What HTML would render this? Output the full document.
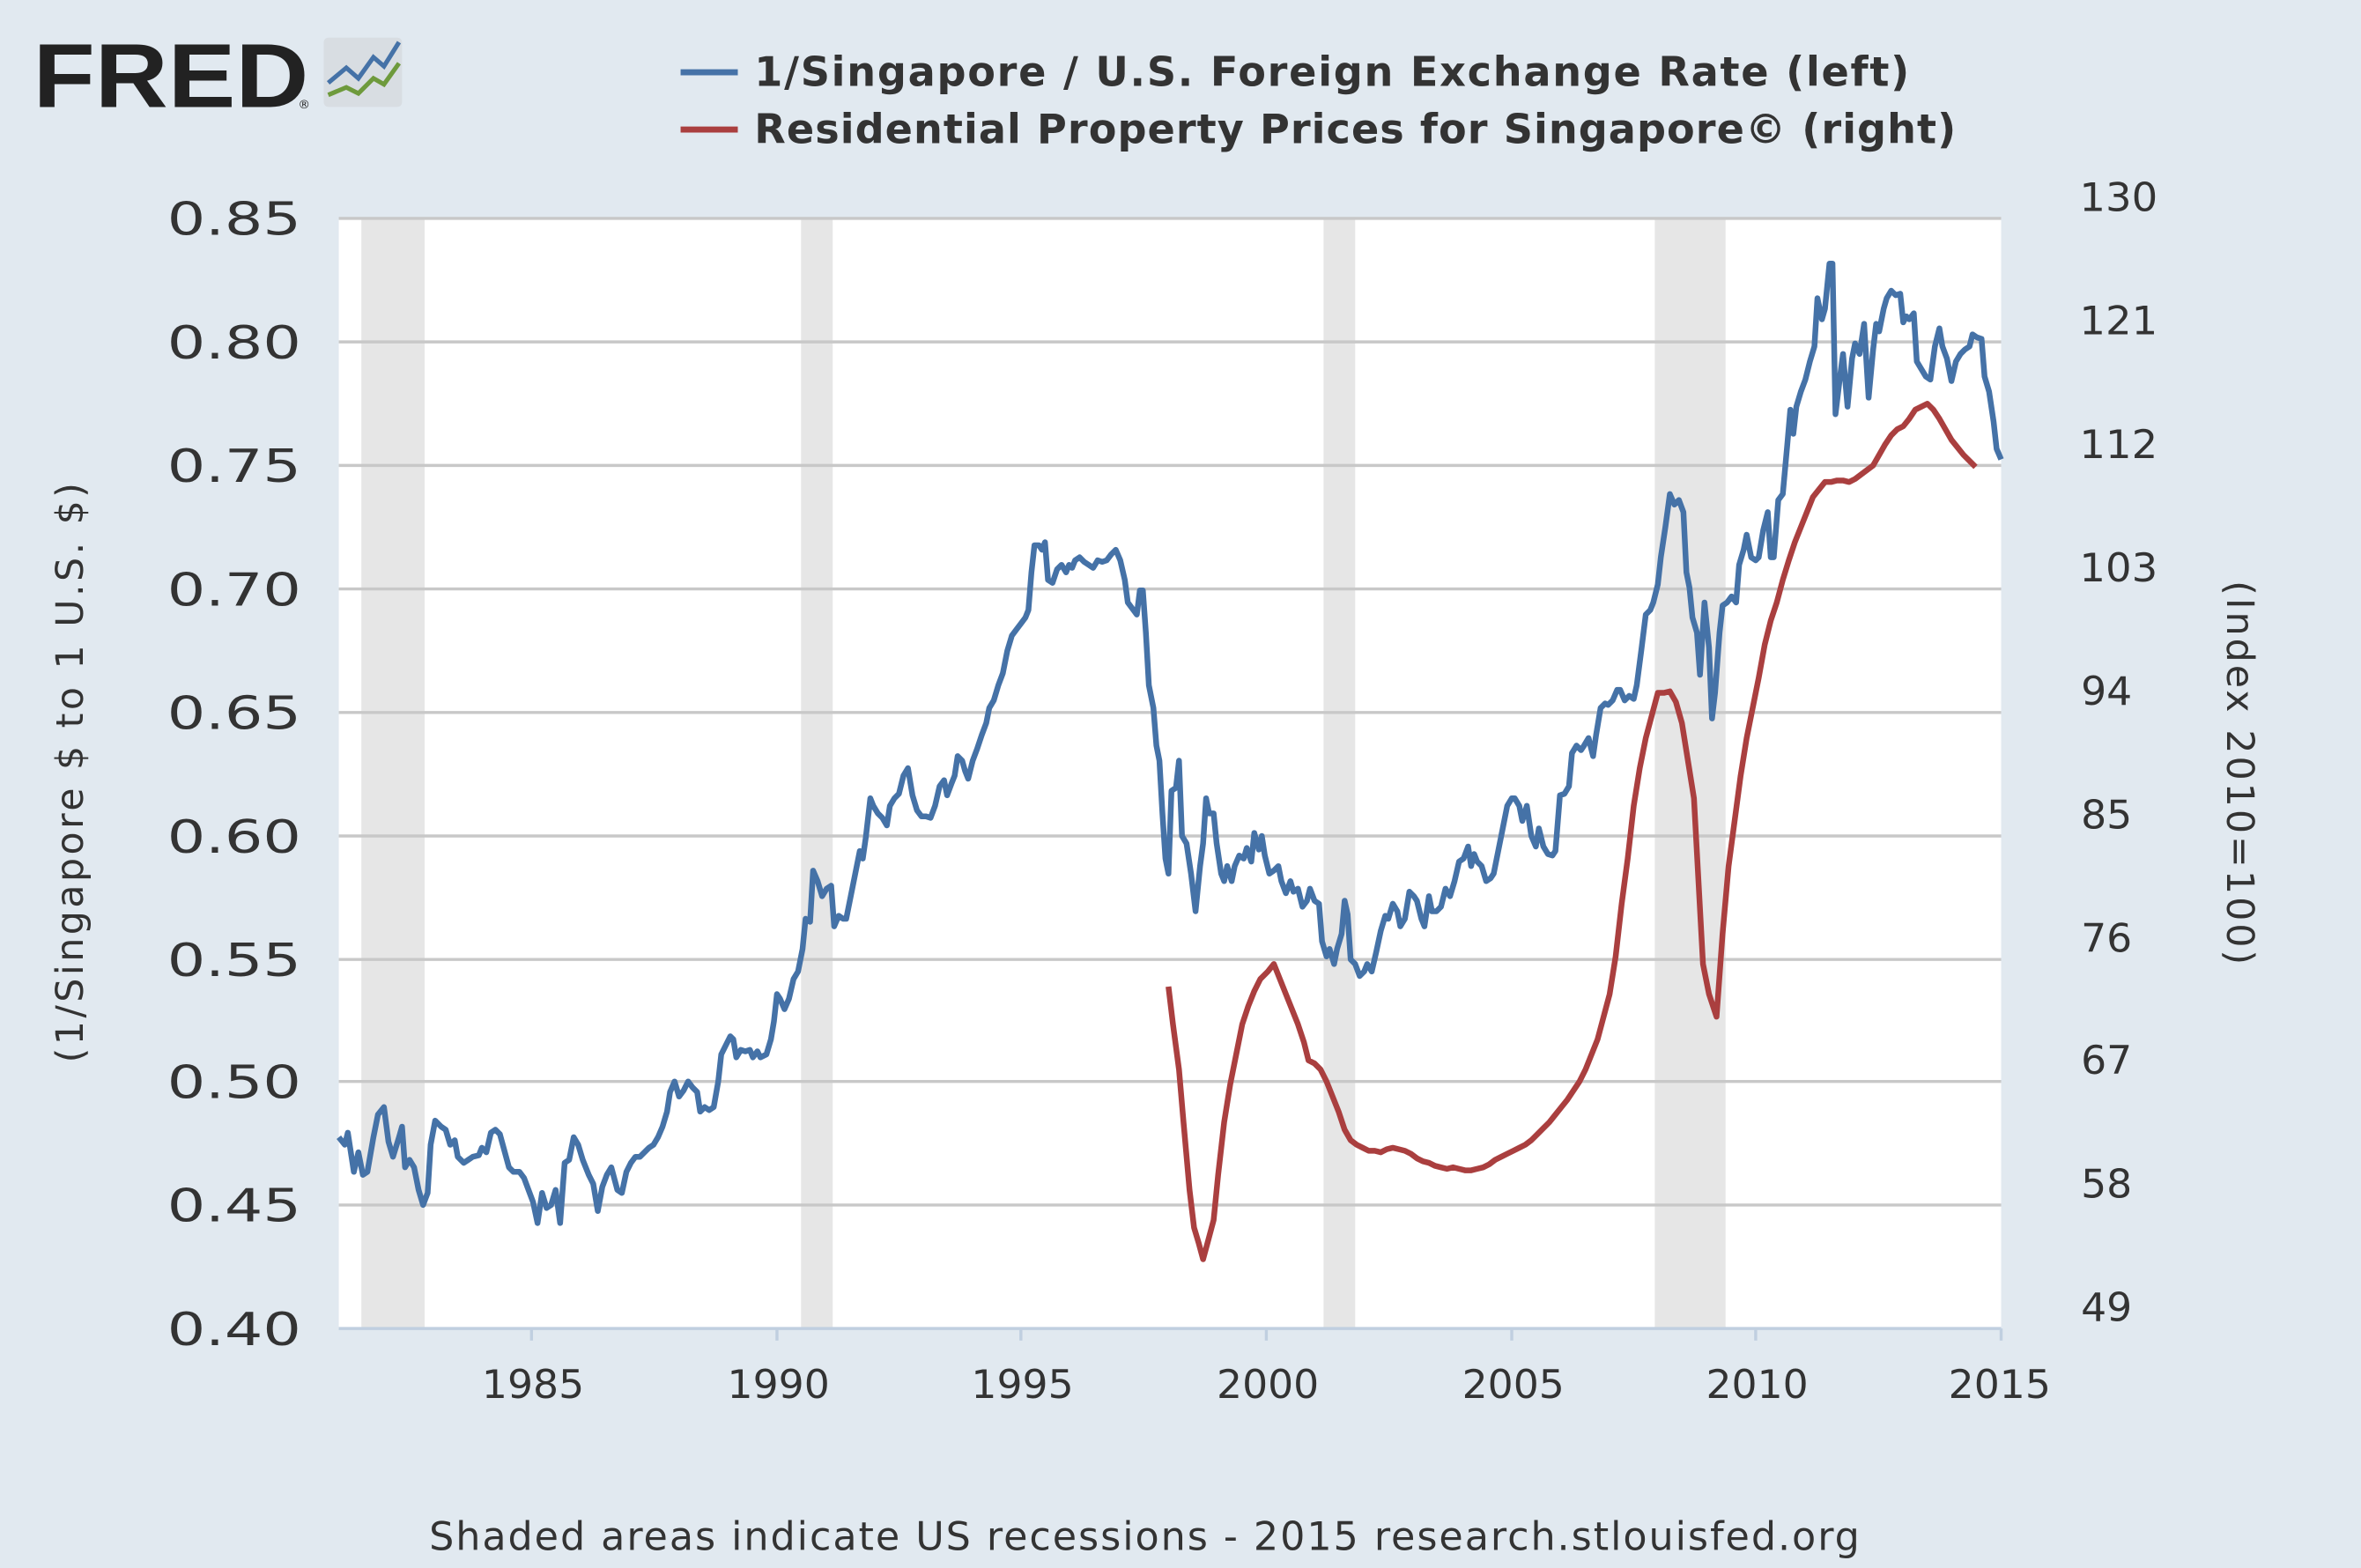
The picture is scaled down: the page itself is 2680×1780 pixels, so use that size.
<!DOCTYPE html>
<html><head><meta charset="utf-8"><style>html,body{margin:0;padding:0;background:#e1e9f0;}svg{display:block}</style></head>
<body>
<svg width="2680" height="1780" viewBox="0 0 1568 1041" preserveAspectRatio="none" xmlns="http://www.w3.org/2000/svg" font-family="'DejaVu Sans','Liberation Sans',sans-serif">
<rect width="1568" height="1041" fill="#e1e9f0"/>
<rect x="225" y="145" width="1104" height="737" fill="#fff"/>
<g fill="#e6e6e6">
<rect x="240" y="145" width="42" height="737"/><rect x="532" y="145" width="21" height="737"/>
<rect x="879" y="145" width="21" height="737"/><rect x="1099" y="145" width="47" height="737"/>
</g>
<g stroke="#c8c8c8" stroke-width="2">
<line x1="225" x2="1329" y1="145" y2="145"/><line x1="225" x2="1329" y1="227" y2="227"/><line x1="225" x2="1329" y1="309" y2="309"/><line x1="225" x2="1329" y1="391" y2="391"/><line x1="225" x2="1329" y1="473" y2="473"/><line x1="225" x2="1329" y1="555" y2="555"/><line x1="225" x2="1329" y1="637" y2="637"/><line x1="225" x2="1329" y1="718" y2="718"/><line x1="225" x2="1329" y1="800" y2="800"/>
</g>
<line x1="225" x2="1329" y1="882" y2="882" stroke="#c0cfe0" stroke-width="2"/>
<g stroke="#c0cfe0" stroke-width="2"><line x1="353" x2="353" y1="882" y2="890"/><line x1="516" x2="516" y1="882" y2="890"/><line x1="678" x2="678" y1="882" y2="890"/><line x1="841" x2="841" y1="882" y2="890"/><line x1="1004" x2="1004" y1="882" y2="890"/><line x1="1166" x2="1166" y1="882" y2="890"/><line x1="1329" x2="1329" y1="882" y2="890"/></g>
<g font-size="30" fill="#333" text-anchor="end">
<text x="200" y="156" textLength="89" lengthAdjust="spacingAndGlyphs">0.85</text><text x="200" y="238" textLength="89" lengthAdjust="spacingAndGlyphs">0.80</text><text x="200" y="320" textLength="89" lengthAdjust="spacingAndGlyphs">0.75</text><text x="200" y="402" textLength="89" lengthAdjust="spacingAndGlyphs">0.70</text><text x="200" y="484" textLength="89" lengthAdjust="spacingAndGlyphs">0.65</text><text x="200" y="566" textLength="89" lengthAdjust="spacingAndGlyphs">0.60</text><text x="200" y="648" textLength="89" lengthAdjust="spacingAndGlyphs">0.55</text><text x="200" y="729" textLength="89" lengthAdjust="spacingAndGlyphs">0.50</text><text x="200" y="811" textLength="89" lengthAdjust="spacingAndGlyphs">0.45</text><text x="200" y="893" textLength="89" lengthAdjust="spacingAndGlyphs">0.40</text>
</g>
<g font-size="26" fill="#333" text-anchor="middle">
<text x="1407" y="140" textLength="52" lengthAdjust="spacingAndGlyphs">130</text><text x="1407" y="222" textLength="52" lengthAdjust="spacingAndGlyphs">121</text><text x="1407" y="304" textLength="52" lengthAdjust="spacingAndGlyphs">112</text><text x="1407" y="386" textLength="52" lengthAdjust="spacingAndGlyphs">103</text><text x="1399" y="468" textLength="34" lengthAdjust="spacingAndGlyphs">94</text><text x="1399" y="550" textLength="34" lengthAdjust="spacingAndGlyphs">85</text><text x="1399" y="632" textLength="34" lengthAdjust="spacingAndGlyphs">76</text><text x="1399" y="713" textLength="34" lengthAdjust="spacingAndGlyphs">67</text><text x="1399" y="795" textLength="34" lengthAdjust="spacingAndGlyphs">58</text><text x="1399" y="877" textLength="34" lengthAdjust="spacingAndGlyphs">49</text>
<text x="354" y="928" textLength="68" lengthAdjust="spacingAndGlyphs">1985</text><text x="517" y="928" textLength="68" lengthAdjust="spacingAndGlyphs">1990</text><text x="679" y="928" textLength="68" lengthAdjust="spacingAndGlyphs">1995</text><text x="842" y="928" textLength="68" lengthAdjust="spacingAndGlyphs">2000</text><text x="1005" y="928" textLength="68" lengthAdjust="spacingAndGlyphs">2005</text><text x="1167" y="928" textLength="68" lengthAdjust="spacingAndGlyphs">2010</text><text x="1328" y="928" textLength="68" lengthAdjust="spacingAndGlyphs">2015</text>
</g>
<text transform="translate(55,513) rotate(-90)" font-size="25" fill="#333" text-anchor="middle" textLength="385">(1/Singapore $ to 1 U.S. $)</text>
<text transform="translate(1479,513) rotate(90)" font-size="25" fill="#333" text-anchor="middle" textLength="255">(Index 2010=100)</text>
<text x="760" y="1029" font-size="26" fill="#333" text-anchor="middle" textLength="950">Shaded areas indicate US recessions - 2015 research.stlouisfed.org</text>
<text x="22" y="71" font-size="60" font-weight="bold" fill="#222" font-family="'Liberation Sans',sans-serif" textLength="183" lengthAdjust="spacingAndGlyphs">FRED</text>
<text x="198" y="72" font-size="8" fill="#222">®</text>
<rect x="215" y="25" width="52" height="46" fill="#d8dde2" rx="3"/>
<polyline points="218,55 230,45 238,52 248,38 255,44 265,28" fill="none" stroke="#4572a7" stroke-width="3"/>
<polyline points="218,63 230,58 238,62 248,52 255,56 265,42" fill="none" stroke="#6e9a3c" stroke-width="3"/>
<line x1="452" x2="490" y1="48" y2="48" stroke="#4572a7" stroke-width="4"/>
<line x1="452" x2="490" y1="86" y2="86" stroke="#aa3f3f" stroke-width="4"/>
<g font-size="27" font-weight="bold" fill="#333"><text x="501" y="57" textLength="767">1/Singapore / U.S. Foreign Exchange Rate (left)</text><text x="501" y="95" textLength="798">Residential Property Prices for Singapore© (right)</text></g>
<polyline fill="none" stroke="#4572a7" stroke-width="3.8" stroke-linejoin="round" points="225,755 229,760 231,752 235,778 238,765 241,780 244,778 248,755 251,740 255,735 258,758 261,768 265,755 267,748 269,775 272,770 275,775 278,790 281,800 284,792 286,760 289,744 293,748 296,750 299,760 302,757 304,768 308,772 311,770 314,768 318,767 320,762 323,765 326,752 329,750 332,753 335,764 338,775 341,778 345,778 348,782 351,790 354,798 357,812 360,792 363,802 366,800 369,790 372,812 375,772 378,770 381,755 384,760 387,770 391,780 394,786 397,804 400,788 403,780 406,775 410,790 413,792 416,778 419,772 422,768 425,768 428,765 431,762 434,760 437,755 440,748 443,738 445,725 448,718 451,728 454,724 457,718 460,722 463,725 465,738 468,735 471,737 474,735 477,718 479,700 482,694 485,688 487,690 489,702 492,697 495,698 498,697 500,702 503,698 505,702 509,700 512,690 514,678 516,660 518,663 521,670 524,663 527,650 530,645 533,630 535,610 538,612 540,578 543,585 546,595 549,590 552,588 554,615 557,608 560,610 562,610 565,595 568,580 571,565 573,570 575,556 578,530 580,535 583,540 586,543 589,548 591,535 594,530 597,527 600,515 603,510 606,528 609,538 612,542 615,542 618,543 621,535 624,522 627,518 629,528 632,520 634,515 636,502 639,505 641,512 643,517 646,505 649,497 652,488 655,480 657,470 660,465 663,455 666,447 669,432 672,422 675,418 678,414 681,410 683,405 685,380 687,362 690,362 692,365 694,360 696,385 699,387 702,378 705,375 708,380 710,375 712,377 714,372 717,370 720,373 723,375 726,377 729,372 732,373 735,372 738,368 741,365 744,372 747,385 749,400 752,404 755,408 757,392 759,392 761,420 763,455 766,470 768,495 770,505 772,540 774,570 776,580 778,525 781,523 783,505 785,555 788,560 791,580 794,605 797,575 799,560 801,530 803,540 806,540 808,560 811,580 813,585 815,575 818,585 820,575 823,568 826,570 828,563 831,572 833,553 836,564 838,555 840,568 843,580 846,578 849,575 851,585 854,593 857,585 859,592 862,590 865,602 868,598 870,590 873,598 876,600 878,625 881,635 883,630 886,640 888,630 891,620 893,598 895,607 897,637 900,640 903,648 906,645 908,640 911,645 914,632 917,618 920,608 922,610 925,600 928,605 930,615 933,610 936,592 939,595 941,598 944,610 946,615 949,595 951,605 954,605 957,602 960,590 963,595 966,585 969,572 972,570 975,562 977,575 979,567 981,572 984,575 987,585 990,583 992,580 995,565 998,550 1001,535 1004,530 1006,530 1009,535 1011,545 1014,535 1017,555 1020,562 1022,550 1025,562 1028,567 1031,568 1033,565 1036,528 1039,527 1042,522 1044,500 1047,495 1050,498 1052,495 1055,490 1058,502 1060,488 1063,470 1066,467 1068,468 1071,465 1074,458 1076,458 1079,465 1082,462 1085,464 1087,455 1090,432 1093,408 1096,405 1098,400 1101,388 1103,370 1106,350 1109,328 1112,335 1115,332 1118,340 1120,380 1122,390 1124,410 1127,420 1129,448 1132,400 1135,430 1137,477 1139,460 1142,420 1144,402 1147,400 1150,396 1153,400 1155,375 1158,365 1160,355 1163,370 1166,372 1168,370 1171,352 1174,340 1176,370 1178,370 1181,332 1184,328 1187,295 1189,272 1191,288 1193,270 1196,260 1199,252 1202,240 1205,230 1207,198 1210,212 1212,205 1215,175 1217,175 1219,275 1222,250 1224,235 1227,270 1230,238 1232,228 1235,235 1238,215 1241,264 1244,232 1246,215 1248,220 1251,205 1253,198 1256,193 1259,196 1262,195 1264,214 1266,210 1268,212 1271,208 1273,240 1276,245 1279,250 1282,252 1285,230 1288,218 1290,230 1293,238 1296,253 1299,240 1302,235 1305,232 1308,230 1310,222 1313,224 1316,225 1318,250 1321,260 1324,280 1326,298 1329,305"/>
<polyline fill="none" stroke="#aa3f3f" stroke-width="3.8" stroke-linejoin="round" points="776,655 779,680 783,710 786,745 790,790 793,815 796,825 799,836 802,825 806,810 809,780 813,745 817,720 821,700 825,680 829,668 833,658 837,650 842,645 846,640 850,650 854,660 858,670 862,680 866,692 869,704 873,706 877,710 881,718 885,728 889,738 893,750 897,757 901,760 905,762 909,764 913,764 917,765 921,763 925,762 929,763 933,764 937,766 941,769 945,771 949,772 953,774 957,775 961,776 965,775 969,776 973,777 977,777 981,776 985,775 989,773 993,770 997,768 1001,766 1005,764 1009,762 1013,760 1017,757 1021,753 1025,749 1029,745 1033,740 1037,735 1041,730 1045,724 1049,718 1053,710 1057,700 1061,690 1065,675 1069,660 1073,635 1077,600 1081,570 1085,535 1089,510 1093,490 1097,475 1101,460 1105,460 1109,459 1113,466 1117,480 1121,505 1125,530 1128,585 1131,640 1135,660 1140,675 1144,620 1148,575 1152,545 1156,515 1160,490 1164,470 1168,450 1172,428 1176,412 1180,400 1184,385 1188,372 1192,360 1196,350 1200,340 1204,330 1208,325 1212,320 1216,320 1220,319 1224,319 1228,320 1232,318 1236,315 1240,312 1244,309 1248,302 1252,295 1256,289 1260,285 1264,283 1268,278 1272,272 1276,270 1280,268 1284,272 1288,278 1292,285 1296,292 1300,297 1304,302 1308,306 1312,310"/>
</svg>
</body></html>
